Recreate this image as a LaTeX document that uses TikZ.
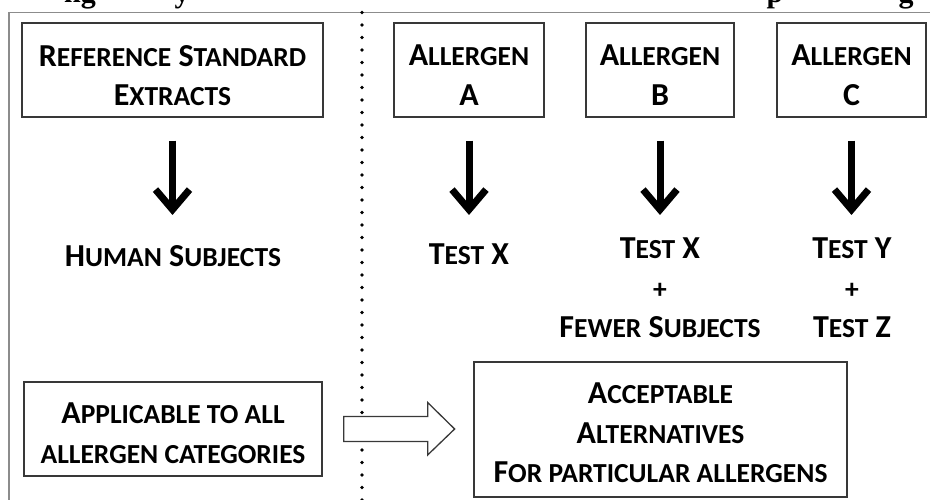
\documentclass[tikz,border=0pt]{standalone}
\usepackage{fontspec}
\setmainfont{Carlito}
\newfontfamily\smallcapsfont[Scale=0.86]{Carlito}
\newfontfamily\titlefont{Liberation Serif}
\usetikzlibrary{arrows.meta,calc}
% lower-case letters set as reduced capitals
\newcommand\lc[1]{{\smallcapsfont\bfseries #1}}
\definecolor{framegray}{gray}{0.55}
\definecolor{boxline}{gray}{0.22}

\begin{document}
\begin{tikzpicture}[x=1pt,y=-1pt,
  box/.style={draw=boxline, line width=1.3pt, inner sep=0pt},
  lbl/.style={font=\fontsize{32}{39.5}\selectfont\bfseries, align=center, inner sep=0pt, anchor=north},
  down/.style={line width=7pt, -{Straight Barb[length=20pt,width=34pt]}},
  hollow/.style={draw=boxline, fill=white, line width=1.3pt, line join=miter},
  frameline/.style={draw=framegray, line width=1.8pt},
  dotline/.style={draw=black, line width=3.6pt, line cap=round, dash pattern=on 0pt off 12.5pt},
  headfrag/.style={font=\titlefont\bfseries\fontsize{30}{36}\selectfont, inner sep=0pt, anchor=base}
]
\useasboundingbox (0,0) rectangle (930,500);

% heading line cut by the upper edge
\begin{scope}
  \clip (0,0) rectangle (930,11);
  \node[headfrag, anchor=base east] (h1) at (96,3) {ng};
  \node[headfrag] (h2) at (182,3) {y};
  \node[headfrag] (h3) at (775,3) {p};
  \node[headfrag] (h4) at (906,3) {g};
\end{scope}

% frame and separator
\draw[frameline] (9,500) -- (9,12.5) -- (930,12.5);
\draw[dotline] (362,12.5) -- (362,500);

% boxes
\node[box, minimum width=301pt, minimum height=94pt] (ref) at (172.5,70) {};
\node[box, minimum width=150pt, minimum height=94pt] (alA) at (469,70) {};
\node[box, minimum width=148pt, minimum height=94pt] (alB) at (660,70) {};
\node[box, minimum width=149pt, minimum height=94pt] (alC) at (851.5,70) {};
\node[box, minimum width=298pt, minimum height=94pt] (app) at (173,429) {};
\node[box, minimum width=373pt, minimum height=135pt] (acc) at (660.5,429.5) {};

% box texts
\node[lbl] (reft) at (172.5,45) {R\lc{EFERENCE} S\lc{TANDARD}\\E\lc{XTRACTS}};
\node[lbl] (alAt) at (469,45) {A\lc{LLERGEN}\\A};
\node[lbl] (alBt) at (660,45) {A\lc{LLERGEN}\\B};
\node[lbl] (alCt) at (851.5,45) {A\lc{LLERGEN}\\C};
\node[lbl] (appt) at (173,403) {A\lc{PPLICABLE TO ALL}\\\lc{ALLERGEN CATEGORIES}};
\node[lbl] (acct) at (660.5,383) {A\lc{CCEPTABLE}\\A\lc{LTERNATIVES}\\F\lc{OR PARTICULAR ALLERGENS}};

% outcomes
\node[lbl] (human) at (173,245) {H\lc{UMAN} S\lc{UBJECTS}};
\node[lbl] (testA) at (469,244) {T\lc{EST} X};
\node[lbl] (testB) at (660,238) {T\lc{EST} X\\\lc{+}\\F\lc{EWER} S\lc{UBJECTS}};
\node[lbl] (testC) at (852,238) {T\lc{EST} Y\\\lc{+}\\T\lc{EST} Z};

% downward arrows
\draw[down, shorten <=23pt, shorten >=30pt] (ref.south) -- (ref.south |- human.north);
\draw[down, shorten <=23pt, shorten >=29pt] (alA.south) -- (alA.south |- testA.north);
\draw[down, shorten <=23pt, shorten >=23pt] (alB.south) -- (alB.south |- testB.north);
\draw[down, shorten <=23pt, shorten >=23pt] (alC.south) -- (alC.south |- testC.north);

% hollow block arrow between the lower boxes
\draw[hollow] ($(app.east)+(21,-12.5)$) -- ++(84,0) -- ++(0,-14)
  -- ($(app.east)+(132,0)$) -- ($(app.east)+(105,26)$) -- ++(0,-13.5)
  -- ($(app.east)+(21,12.5)$) -- cycle;
\end{tikzpicture}
\end{document}
